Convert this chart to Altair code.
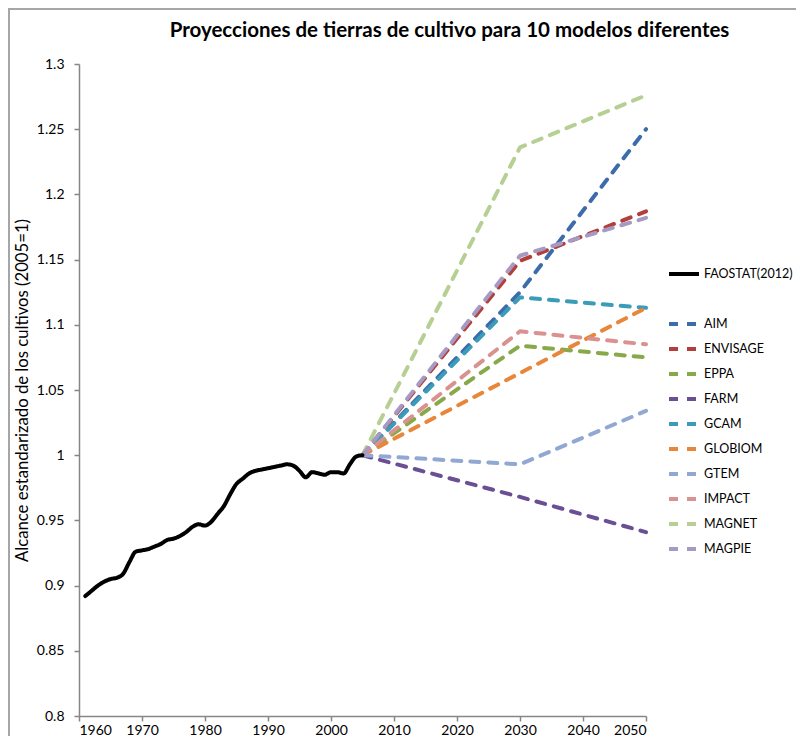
import altair as alt
import pandas as pd

# ---- data ----
hist_years = list(range(1961, 2006))
faostat = [0.892, 0.896, 0.900, 0.903, 0.905, 0.906, 0.909, 0.918, 0.926, 0.927,
           0.928, 0.930, 0.932, 0.935, 0.936, 0.938, 0.941, 0.945, 0.947, 0.946,
           0.949, 0.955, 0.961, 0.970, 0.978, 0.982, 0.986, 0.988, 0.989, 0.990,
           0.991, 0.992, 0.993, 0.992, 0.988, 0.983, 0.987, 0.986, 0.985, 0.987,
           0.987, 0.986, 0.993, 0.999, 1.000]

models = ["AIM", "ENVISAGE", "EPPA", "FARM", "GCAM", "GLOBIOM", "GTEM",
          "IMPACT", "MAGNET", "MAGPIE"]
proj_years = [2005, 2030, 2050]
v2005 = [1.0] * 10
v2030 = [1.125, 1.149, 1.084, 0.968, 1.121, 1.063, 0.993, 1.095, 1.236, 1.153]
v2050 = [1.250, 1.187, 1.075, 0.941, 1.113, 1.113, 1.034, 1.085, 1.276, 1.182]

colors = ["#3D6CAB", "#B33F3D", "#88A94A", "#6B4F94", "#3A9CB8", "#E8873A",
          "#91A8D3", "#D99290", "#B6CF93", "#A699C3"]

hist_name = "FAOSTAT(2012)"
blank = " "

rows = [{"year": y, "value": v, "series": hist_name} for y, v in zip(hist_years, faostat)]
hist_df = pd.DataFrame(rows)

prows = []
for i, m in enumerate(models):
    for y, v in zip(proj_years, [v2005[i], v2030[i], v2050[i]]):
        prows.append({"year": y, "value": v, "series": m})
proj_df = pd.DataFrame(prows)

domain = [hist_name, blank] + models
color_range = ["#000000", "transparent"] + colors
dash_range = [[1, 0], [1, 0]] + [[9, 9]] * len(models)

FONT = "Lato"

x_enc = alt.X("year:Q", scale=alt.Scale(domain=[1960, 2050], nice=False),
              axis=alt.Axis(values=list(range(1960, 2051, 10)), format="d", title=None,
                            labelPadding=2))
y_enc = alt.Y("value:Q", scale=alt.Scale(domain=[0.8, 1.3], nice=False, zero=False),
              axis=alt.Axis(values=[0.8, 0.85, 0.9, 0.95, 1.0, 1.05, 1.1, 1.15, 1.2, 1.25, 1.3],
                            format="~g", title="Alcance estandarizado de los cultivos (2005=1)",
                            labelPadding=10, titlePadding=5))

legend = alt.Legend(title=None, orient="none", legendX=588, legendY=193,
                    symbolType="stroke", symbolSize=900, symbolStrokeWidth=4,
                    labelFont=FONT, labelFontSize=12.5, labelColor="#000000",
                    labelOffset=3, rowPadding=-5)

color_enc = alt.Color("series:N", scale=alt.Scale(domain=domain, range=color_range),
                      legend=legend)
dash_enc = alt.StrokeDash("series:N", scale=alt.Scale(domain=domain, range=dash_range),
                          legend=legend)

hist = alt.Chart(hist_df).mark_line(strokeWidth=4, interpolate="monotone",
                                    strokeCap="round", strokeJoin="round").encode(
    x=x_enc, y=y_enc, color=color_enc, strokeDash=dash_enc)

proj = alt.Chart(proj_df).mark_line(strokeWidth=4, strokeCap="round",
                                    strokeJoin="round").encode(
    x=x_enc, y=y_enc, color=color_enc, strokeDash=dash_enc,
    order=alt.Order("year:Q"))

frame = alt.Chart(pd.DataFrame({"f": [0]})).mark_rect(
    fill=None, stroke="#a6a6a6", strokeWidth=2, clip=False).encode(
    x=alt.value(-70), x2=alt.value(800), y=alt.value(-55), y2=alt.value(720))

chart = alt.layer(frame, proj, hist).properties(
    width=567, height=652,
    autosize=alt.AutoSizeParams(type="none"),
    padding={"left": 71, "top": 56, "right": 150, "bottom": 20},
    title=alt.Title("Proyecciones de tierras de cultivo para 10 modelos diferentes",
                    font=FONT, fontSize=20.5, fontWeight="bold", color="#000000",
                    anchor="middle", frame="group", dx=87, offset=-33),
).configure_view(stroke=None).configure_axis(
    grid=False, domainColor="#868686", domainWidth=1.5, tickColor="#868686",
    tickWidth=1.5, tickSize=5, labelFont=FONT, labelFontSize=14, labelColor="#000000",
    titleFont=FONT, titleFontSize=16.7, titleFontWeight="normal", titleColor="#000000",
)

chart.save("out.html", embed_options={"renderer": "svg", "actions": False})
